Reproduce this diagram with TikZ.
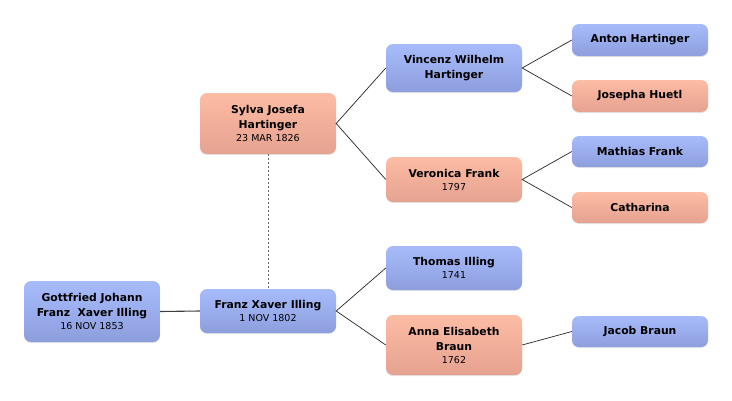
\documentclass[tikz,border=0pt]{standalone}
\usepackage{fontspec}
\setmainfont{DejaVu Sans}
\usetikzlibrary{shadows}

\definecolor{maletop}{HTML}{A7BBFA}
\definecolor{malebot}{HTML}{8D9EDD}
\definecolor{femtop}{HTML}{FDBCA4}
\definecolor{fembot}{HTML}{E5A290}

\newcommand{\born}[1]{{\fontsize{9.5}{12}\selectfont\mdseries #1}}

\tikzset{
  person/.style={rounded corners=7pt, minimum width=136pt, inner sep=0pt,
    align=center, font=\fontsize{10.8}{15}\selectfont\bfseries,
    drop shadow={shadow xshift=0pt, shadow yshift=-1pt, opacity=0.2}},
  male/.style={person, top color=maletop, bottom color=malebot},
  female/.style={person, top color=femtop, bottom color=fembot},
  link/.style={black!85, line width=0.7pt}
}

\begin{document}
\begin{tikzpicture}[x=1pt, y=-1pt]
\useasboundingbox (0,0) rectangle (732,400);
% generation 1 and 2
\node[male, minimum height=61pt] (gottfried) at (92,311.5) {Gottfried Johann\\Franz\ \ Xaver Illing\\[-2pt]\born{16 NOV 1853}};
\node[male, minimum height=44pt] (franz) at (268,311) {Franz Xaver Illing\\[-2pt]\born{1 NOV 1802}};
\node[female, minimum height=61pt] (sylva) at (268,123.5) {Sylva Josefa\\Hartinger\\[-2pt]\born{23 MAR 1826}};
% generation 3
\node[male, minimum height=48pt] (vincenz) at (454,68) {Vincenz Wilhelm\\Hartinger};
\node[female, minimum height=45pt] (veronica) at (454,179.5) {Veronica Frank\\[-2pt]\born{1797}};
\node[male, minimum height=44pt] (thomas) at (454,268) {Thomas Illing\\[-2pt]\born{1741}};
\node[female, minimum height=60pt] (anna) at (454,345) {Anna Elisabeth\\Braun\\[-2pt]\born{1762}};
% generation 4
\node[male, minimum height=32pt] (anton) at (640,40) {Anton Hartinger};
\node[female, minimum height=32pt] (josepha) at (640,96) {Josepha Huetl};
\node[male, minimum height=31pt] (mathias) at (640,151.5) {Mathias Frank};
\node[female, minimum height=31pt] (catharina) at (640,207.5) {Catharina};
\node[male, minimum height=31pt] (jacob) at (640,331.5) {Jacob Braun};

\draw[black!75, line width=1.1pt] (gottfried.east) -- (franz.west);
\draw[black!60, line width=0.9pt, dash pattern=on 2pt off 2pt] (sylva.south) -- (franz.north);
\draw[link] (vincenz.west) -- (sylva.east) -- (veronica.west);
\draw[link] (thomas.west) -- (franz.east) -- (anna.west);
\draw[link] (anton.west) -- (vincenz.east) -- (josepha.west);
\draw[link] (mathias.west) -- (veronica.east) -- (catharina.west);
\draw[link] (anna.east) -- (jacob.west);
\end{tikzpicture}
\end{document}
